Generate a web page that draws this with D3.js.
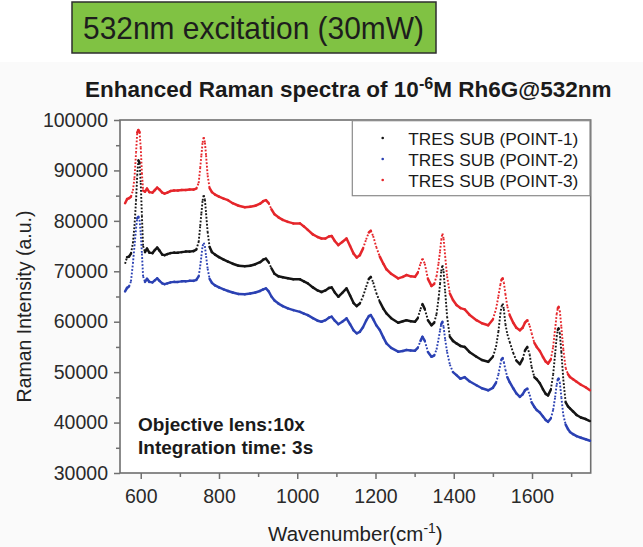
<!DOCTYPE html>
<html>
<head>
<meta charset="utf-8">
<script src="https://cdn.jsdelivr.net/npm/d3@7/dist/d3.min.js"></script>
<style>
  body { margin: 0; background: #ffffff; }
  svg { display: block; font-family: "Liberation Sans", Arial, Helvetica, sans-serif; }
</style>
</head>
<body>
<svg id="chart" width="643" height="547"></svg>
<script>
// Raman shift (cm^-1) sampled for all three spectra
const wavenumbers = [
  560, 565, 570, 575, 580, 584, 588, 591, 594, 597,
  600, 603, 606, 611, 616, 622, 630, 636, 642, 648,
  655, 661, 668, 676, 685, 695, 705, 715, 725, 735,
  742, 748, 752, 755, 758, 761, 764, 767, 771, 776,
  782, 790, 800, 812, 823, 835, 850, 866, 880, 893,
  905, 913, 920, 927, 934, 942, 952, 963, 976, 990,
  1007, 1017, 1027, 1040, 1052, 1062, 1072, 1081, 1088, 1096,
  1105, 1115, 1126, 1135, 1144, 1152, 1160, 1168, 1176, 1183,
  1188, 1194, 1202, 1211, 1220, 1228, 1240, 1258, 1270, 1279,
  1290, 1301, 1308, 1315, 1320, 1326, 1334, 1343, 1350, 1356,
  1361, 1365, 1368, 1371, 1374, 1378, 1383, 1390, 1398, 1407,
  1417, 1428, 1440, 1458, 1472, 1488, 1500, 1508, 1514, 1519,
  1522, 1525, 1528, 1532, 1537, 1543, 1552, 1560, 1569, 1576,
  1582, 1588, 1594, 1599, 1606, 1612, 1620, 1628, 1635, 1641,
  1648, 1654, 1659, 1663, 1666, 1668, 1671, 1675, 1680, 1686,
  1692, 1697, 1705, 1714, 1725, 1737, 1748
];

// TRES SUB (POINT-1)
const point1 = [
  71500, 72800, 72900, 73500, 75600, 79000, 84000, 89000, 92000, 91500,
  87500, 81000, 75000, 73800, 74500, 73700, 73600, 74200, 74700, 74100,
  73300, 73200, 73400, 73600, 73700, 73700, 73800, 73900, 73900, 74000,
  74300, 75800, 79000, 81500, 84000, 85100, 84200, 81500, 77800, 74800,
  73800, 73300, 72800, 72300, 71900, 71500, 71100, 71000, 71100, 71400,
  71800, 72300, 72500, 71800, 70600, 69500, 69000, 68800, 68600, 68400,
  68400, 68000, 67600, 66800, 66200, 65900, 66200, 66700, 66800, 65800,
  64950, 65700, 66600, 65200, 63700, 63100, 63600, 65000, 66900, 68500,
  68900, 67800, 65700, 63950, 62600, 61650, 60700, 59800, 60100, 60300,
  60100, 60000, 60700, 62500, 63500, 62500, 60300, 59300, 59800, 61500,
  64500, 67500, 70000, 71200, 70000, 66000, 61000, 57000, 56200, 55700,
  55200, 55000, 54000, 53050, 52400, 52050, 53050, 55000, 58000, 61500,
  63000, 63600, 62500, 59500, 57500, 56000, 53800, 52300, 51600, 52600,
  54300, 55000, 53500, 51000, 49000, 48600, 47800, 46600, 45700, 45400,
  46500, 49500, 53500, 57000, 58400, 58700, 57800, 54000, 48500, 44000,
  43200, 42800, 42200, 41500, 41000, 40700, 40300
];

// TRES SUB (POINT-2)
const point2 = [
  66000, 66700, 67000, 68000, 71500, 75000, 78500, 80500, 80800, 80200,
  77500, 73500, 69000, 67900, 68500, 67900, 67800, 68200, 68600, 68100,
  67600, 67450, 67600, 67800, 67900, 67900, 68000, 68000, 68100, 68100,
  68300, 69000, 71000, 73000, 75000, 75650, 75000, 73000, 70500, 68500,
  67700, 67200, 66800, 66400, 66100, 65800, 65500, 65450, 65600, 65800,
  66100, 66400, 66600, 66000, 65000, 64200, 63600, 63100, 62650, 62300,
  61950, 61600, 61300, 60700, 60200, 60000, 60300, 60800, 61000, 60200,
  59500, 60000, 60650, 59500, 58300, 57700, 58000, 58900, 60200, 61100,
  61300, 60500, 59300, 58350, 56900, 55700, 54800, 54050, 54200, 54400,
  54300, 54250, 54800, 56200, 57000, 56200, 54000, 53050, 53300, 54500,
  56500, 58300, 59500, 60000, 59000, 56500, 54000, 51500, 50000, 49400,
  48700, 49000, 48200, 47400, 46800, 46400, 46900, 47900, 49500, 51500,
  52500, 52800, 52000, 50500, 49000, 48000, 46800, 45800, 45100, 45600,
  46400, 46750, 45500, 44000, 43100, 42500, 42000, 41200, 40500, 40150,
  40800, 42500, 45000, 47500, 48500, 48750, 48000, 45000, 41500, 39600,
  38700, 38150, 37700, 37300, 37000, 36700, 36400
];

// TRES SUB (POINT-3)
const point3 = [
  83500, 84300, 84500, 84800, 86000, 88500, 93500, 97500, 98000, 97600,
  94500, 89500, 86000, 85800, 86400, 85700, 85600, 86100, 86600, 86200,
  85600, 85400, 85600, 85900, 86000, 86000, 86100, 86100, 86200, 86200,
  86400, 87500, 90500, 93000, 95500, 96600, 95500, 93000, 89000, 86500,
  85700, 85200, 84800, 84400, 84100, 83500, 83000, 82700, 82800, 83000,
  83400, 83900, 84100, 83500, 82300, 81300, 80700, 80200, 79800, 79500,
  79500, 78900, 78200, 77300, 76800, 76500, 76500, 76900, 77000, 76000,
  75200, 75800, 76500, 75000, 73500, 72750, 73200, 74500, 76300, 77700,
  78050, 77000, 74800, 72900, 71500, 70400, 69500, 68600, 68900, 69250,
  69000, 68900, 69700, 71500, 72550, 71500, 68500, 67100, 67500, 69000,
  71500, 74000, 76200, 77500, 76500, 73000, 69000, 65600, 64300, 63300,
  62700, 62450, 61400, 60300, 59700, 59300, 60450, 62500, 65000, 67300,
  68300, 68600, 67800, 65500, 63000, 61300, 59800, 58800, 58300, 58800,
  59800, 60300, 59200, 57700, 55800, 55000, 54200, 53000, 52100, 51700,
  52500, 55000, 58500, 61500, 62700, 62950, 62200, 59000, 54500, 50800,
  49600, 49050, 48600, 48100, 47500, 47000, 46400
];

const seriesNames = ["TRES SUB (POINT-1)", "TRES SUB (POINT-2)", "TRES SUB (POINT-3)"];
const seriesValues = [point1, point2, point3];
const seriesColors = ["#151515", "#2b41b3", "#e5262b"];

const xMajorTicks = [600, 800, 1000, 1200, 1400, 1600];
const xMinorTicks = [700, 900, 1100, 1300, 1500, 1700];
const yMajorTicks = [30000, 40000, 50000, 60000, 70000, 80000, 90000, 100000];
const yMinorTicks = [35000, 45000, 55000, 65000, 75000, 85000, 95000];

const svg = d3.select("#chart");
const W = 643, H = 547;
const plot = { left: 120, right: 590.7, top: 120, bottom: 473 };

const x = d3.scaleLinear().domain([547, 1750]).range([plot.left, plot.right]);
const y = d3.scaleLinear().domain([30000, 100000]).range([plot.bottom, plot.top]);

// page background below the banner
svg.append("rect").attr("x", 0).attr("y", 62).attr("width", W).attr("height", H - 62)
  .attr("fill", "#fafafa");
svg.append("rect").attr("x", plot.left).attr("y", plot.top)
  .attr("width", plot.right - plot.left).attr("height", plot.bottom - plot.top)
  .attr("fill", "#ffffff");

// green banner
svg.append("rect").attr("x", 72).attr("y", 2).attr("width", 364).attr("height", 51)
  .attr("fill", "#80c243").attr("stroke", "#2e2e2e").attr("stroke-width", 1.5);
svg.append("text").attr("x", 83).attr("y", 39)
  .attr("font-size", 32).attr("fill", "#1d1d1d")
  .attr("textLength", 341).attr("lengthAdjust", "spacingAndGlyphs")
  .text("532nm excitation (30mW)");

// chart title
const title = svg.append("text").attr("x", 85).attr("y", 96.5)
  .attr("font-size", 22.5).attr("font-weight", "bold").attr("fill", "#1a1a1a");
title.append("tspan").text("Enhanced Raman spectra of 10");
title.append("tspan").attr("font-size", "0.72em").attr("dy", -8).text("-6");
title.append("tspan").attr("dy", 8).text("M Rh6G@532nm");

// axes
const axisColor = "#6f6f6f";
const gx = svg.append("g").attr("transform", `translate(0,${plot.bottom})`)
  .call(d3.axisBottom(x).tickValues(xMajorTicks).tickSize(6).tickPadding(10).tickFormat(d3.format("d")));
const gxm = svg.append("g").attr("transform", `translate(0,${plot.bottom})`)
  .call(d3.axisBottom(x).tickValues(xMinorTicks).tickSize(4).tickFormat(""));
const gy = svg.append("g").attr("transform", `translate(${plot.left},0)`)
  .call(d3.axisLeft(y).tickValues(yMajorTicks).tickSize(6).tickPadding(6).tickFormat(d3.format("d")));
const gym = svg.append("g").attr("transform", `translate(${plot.left},0)`)
  .call(d3.axisLeft(y).tickValues(yMinorTicks).tickSize(4).tickFormat(""));
[gx, gxm, gy, gym].forEach(g => {
  g.select(".domain").remove();
  g.selectAll(".tick line").attr("stroke", axisColor).attr("stroke-width", 1.5);
  g.selectAll(".tick text").attr("fill", "#2a2a2a").attr("font-size", 19.5)
    .attr("font-family", "'Liberation Sans', Arial, sans-serif");
});

// plot frame
svg.append("rect").attr("x", plot.left).attr("y", plot.top)
  .attr("width", plot.right - plot.left).attr("height", plot.bottom - plot.top)
  .attr("fill", "none").attr("stroke", axisColor).attr("stroke-width", 1.6);

// axis titles
const xt = svg.append("text").attr("x", (plot.left + plot.right) / 2).attr("y", 541)
  .attr("text-anchor", "middle").attr("font-size", 20.5).attr("fill", "#222");
xt.append("tspan").text("Wavenumber(cm");
xt.append("tspan").attr("font-size", "0.68em").attr("dy", -8).text("-1");
xt.append("tspan").attr("dy", 8).text(")");

svg.append("text").attr("transform", `translate(31,306.5) rotate(-90)`)
  .attr("text-anchor", "middle").attr("font-size", 19.5).attr("fill", "#222")
  .text("Raman Intensity (a.u.)");

// spectra: dense sampled points joined; steep runs rendered dotted
const lines = svg.append("g");
[0, 1, 2].forEach(s => {
  const vals = seriesValues[s];
  const g = lines.append("g");
  for (let i = 1; i < wavenumbers.length; i++) {
    const x0 = x(wavenumbers[i - 1]), y0 = y(vals[i - 1]);
    const x1 = x(wavenumbers[i]), y1 = y(vals[i]);
    const steep = Math.abs(y1 - y0) / Math.max(0.5, x1 - x0) > 2.2;
    g.append("line")
      .attr("x1", x0).attr("y1", y0).attr("x2", x1).attr("y2", y1)
      .attr("stroke", seriesColors[s])
      .attr("stroke-width", steep ? 1.9 : 2.5)
      .attr("stroke-linecap", steep ? "butt" : "round")
      .attr("stroke-dasharray", steep ? "1.8 1.7" : null);
  }
});

// legend
const lg = svg.append("g");
lg.append("rect").attr("x", 352.3).attr("y", 120.7).attr("width", 237.7).attr("height", 75)
  .attr("fill", "#ffffff").attr("stroke", "#8a8a8a").attr("stroke-width", 1.2);
seriesNames.forEach((name, i) => {
  const cy = 138 + i * 21;
  lg.append("circle").attr("cx", 382.7).attr("cy", cy).attr("r", 1.3).attr("fill", seriesColors[i]);
  lg.append("text").attr("x", 408.3).attr("y", cy + 6.5)
    .attr("font-size", 17.3).attr("fill", "#1a1a1a").text(name);
});

// acquisition notes
svg.append("text").attr("x", 138).attr("y", 430.5).attr("font-size", 19).attr("font-weight", "bold")
  .attr("fill", "#1a1a1a").text("Objective lens:10x");
svg.append("text").attr("x", 138).attr("y", 454).attr("font-size", 19).attr("font-weight", "bold")
  .attr("fill", "#1a1a1a").text("Integration time: 3s");
</script>
</body>
</html>
